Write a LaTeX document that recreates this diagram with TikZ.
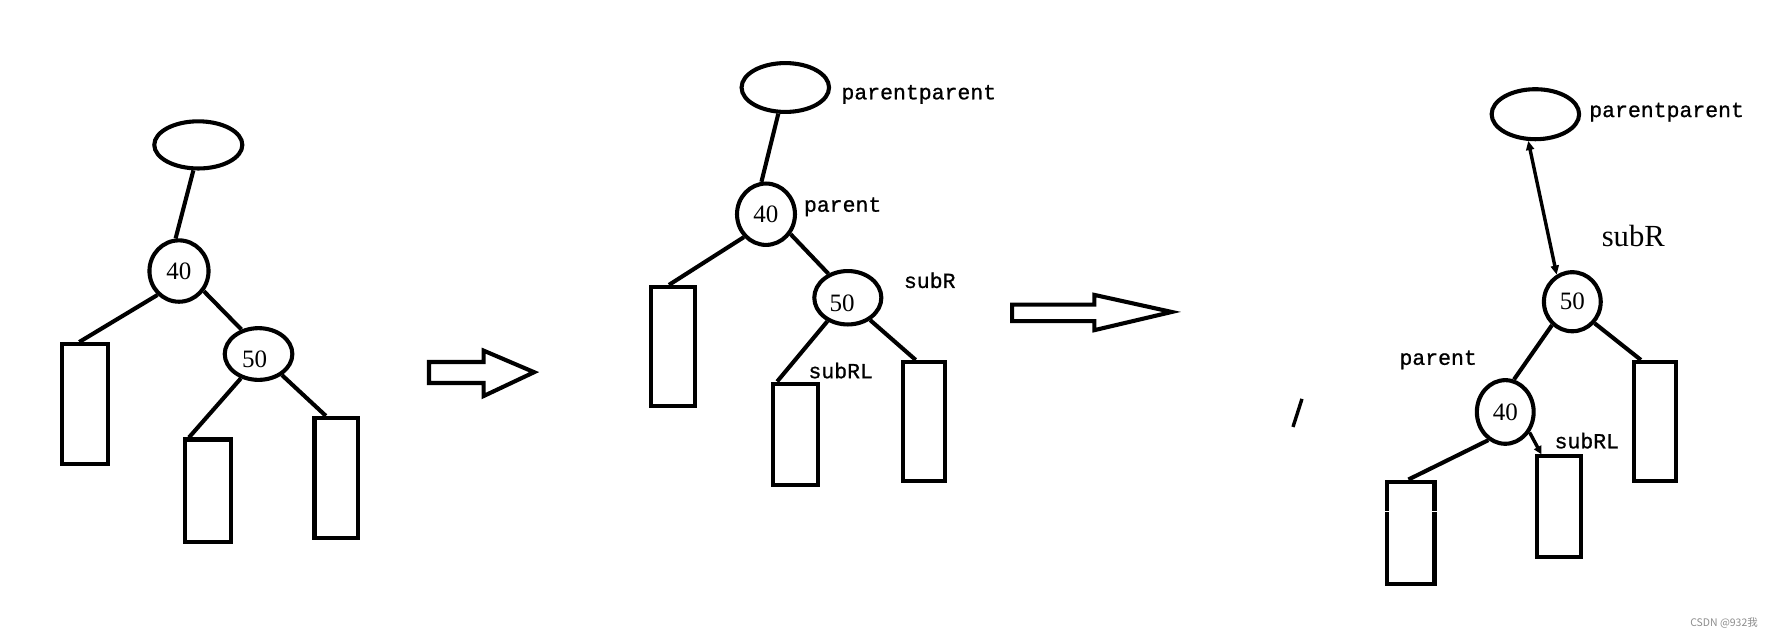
\documentclass[tikz,border=0pt]{standalone}
\usepackage{fontspec}
\setmainfont{Liberation Serif}
\newfontfamily\tagfont[FakeBold=0.9]{Liberation Mono}
\newfontfamily\cjkfont{Noto Sans CJK SC}
\usetikzlibrary{shapes.geometric,arrows.meta,calc}
\tikzset{
  edge/.style={line width=1.8pt},
  thinedge/.style={line width=1.5pt},
  ellnode/.style={draw, ellipse, line width=1.8pt, inner sep=0pt, font=\fontsize{11}{13}\selectfont},
  leaf/.style={draw, rectangle, line width=1.8pt, inner sep=0pt},
  tag/.style={anchor=base west, inner sep=0pt, font=\tagfont\fontsize{9.45}{11}\selectfont},
  bigtag/.style={anchor=base west, inner sep=0pt, font=\fontsize{13.5}{15}\selectfont},
  num/.style={inner sep=0pt, font=\fontsize{11}{13}\selectfont},
  blockarrow/.style={draw, line width=1.8pt, line join=miter},
  smalltip/.style={{Triangle[length=4pt,width=3.5pt]}-{Triangle[length=4pt,width=3.5pt]}},
  endtip/.style={-{Triangle[length=3.5pt,width=3.5pt]}},
}
\begin{document}
\begin{tikzpicture}[x=0.5pt,y=-0.5pt]
\useasboundingbox (0,0) rectangle (1568,561);

% ---------------- left tree ----------------
\node[ellnode, minimum width=38.75pt, minimum height=20.75pt] (lpp) at (174.5,127.5) {};
\node[ellnode, minimum width=26pt, minimum height=27pt] (l40) at (157.5,238.5) {40};
\node[ellnode, minimum width=29.75pt, minimum height=22.75pt,
      label={[num, shift={(-1.75pt,-2.25pt)}]center:50}] (l50) at (227.5,311.5) {};
\node[leaf, minimum width=20.25pt, minimum height=52.75pt] (lr1) at (75,355.5) {};
\node[leaf, minimum width=20.25pt, minimum height=45.25pt] (lr2) at (183,432) {};
\node[leaf, minimum width=19.25pt, minimum height=52.75pt] (lr3) at (296,420.5) {};

\draw[edge] (lpp.-101) -- (l40.96);
\draw[edge] (l40.-132) -- ($(lr1.north west)!0.38!(lr1.north east)$);
\draw[edge] (l40.-39) -- (l50.125);
\draw[edge] (l50.-126) -- ($(lr2.north west)!0.12!(lr2.north east)$);
\draw[edge] (l50.-42) -- ($(lr3.north west)!0.28!(lr3.north east)$);

% ---------------- first block arrow ----------------
\draw[blockarrow] (377.5,318.5) -- (425.5,318.5) -- (425.5,308.5) -- (470,327.5)
  -- (425.5,348.5) -- (425.5,337) -- (377.5,337) -- cycle;

% ---------------- middle tree ----------------
\node[ellnode, minimum width=38.5pt, minimum height=21.5pt] (mpp) at (691,77) {};
\node[ellnode, minimum width=25.5pt, minimum height=27pt] (m40) at (674,188.5) {40};
\node[ellnode, minimum width=29.5pt, minimum height=23.5pt,
      label={[num, shift={(-2.5pt,-2.5pt)}]center:50}] (m50) at (746,262) {};
\node[leaf, minimum width=19.5pt, minimum height=52.5pt] (mr1) at (592,305) {};
\node[leaf, minimum width=19.5pt, minimum height=44.5pt] (mr2) at (700,382) {};
\node[leaf, minimum width=18.5pt, minimum height=52.5pt] (mr3) at (813,371) {};

\node[tag] (mtpp) at (740,87.4) {parentparent};
\node[tag] (mtp) at (707,186.3) {parent};
\node[tag] (mtr) at (795,253.4) {subR};
\node[tag] (mtrl) at (711,332.8) {subRL};

\draw[edge] (mpp.-105) -- (m40.98);
\draw[edge] (m40.-134) -- ($(mr1.north west)!0.42!(mr1.north east)$);
\draw[edge] (m40.-39) -- (m50.129);
\draw[edge] (m50.-131) -- ($(mr2.north west)!0.12!(mr2.north east)$);
\draw[edge] (m50.-45) -- ($(mr3.north west)!0.32!(mr3.north east)$);

% ---------------- second block arrow ----------------
\draw[blockarrow] (890.5,268) -- (963,268) -- (963,259.5) -- (1031,274.5)
  -- (963,290.5) -- (963,282.5) -- (890.5,282.5) -- cycle;

% stray tick mark
\draw[line width=1.5pt] (1145.6,351) -- (1137.7,375.7);

% ---------------- right tree ----------------
\node[ellnode, minimum width=38.5pt, minimum height=22pt] (rpp) at (1351,100.5) {};
\node[ellnode, minimum width=25pt, minimum height=26pt] (r50) at (1383.5,265.5) {50};
\node[ellnode, minimum width=25pt, minimum height=28pt] (r40) at (1324.5,362.5) {40};
\node[leaf, minimum width=20.75pt, minimum height=45.25pt] (rr1) at (1241.5,469) {};
\node[leaf, minimum width=19.5pt, minimum height=44.5pt] (rr2) at (1372,446) {};
\node[leaf, minimum width=18.5pt, minimum height=52.5pt] (rr3) at (1456,371) {};

\node[tag] (rtpp) at (1398,103) {parentparent};
\node[bigtag] (rtr) at (1409,217) {subR};
\node[tag] (rtp) at (1231,321) {parent};
\node[tag] (rtrl) at (1367.5,394.5) {subRL};

\draw[thinedge, smalltip] (rpp.-105) -- (r50.120);
\draw[edge] (r50.-131) -- (r40.75);
\draw[edge] (r50.-44) -- ($(rr3.north west)!0.2!(rr3.north east)$);
\draw[edge] (r40.-121) -- ($(rr1.north west)!0.45!(rr1.north east)$);
\draw[thinedge, endtip] (r40.-40) -- ($(rr2.north west)!0.13!(rr2.north east)$);

% small white gap in the left leaf
\coordinate (g1) at ($(rr1.north west)!0.3!(rr1.south west)$);
\coordinate (g2) at ($(rr1.north east)!0.3!(rr1.south east)$);
\draw[white, line width=0.5pt] ([xshift=-0.2pt]g1) -- ([xshift=2pt]g1);
\draw[white, line width=0.5pt] ([xshift=-2pt]g2) -- ([xshift=0.2pt]g2);

% watermark
\node[inner sep=0pt, text=black!45, font=\cjkfont\fontsize{4.6}{5}\selectfont] (wm) at (1517,548) {CSDN @932我};
\end{tikzpicture}
\end{document}
